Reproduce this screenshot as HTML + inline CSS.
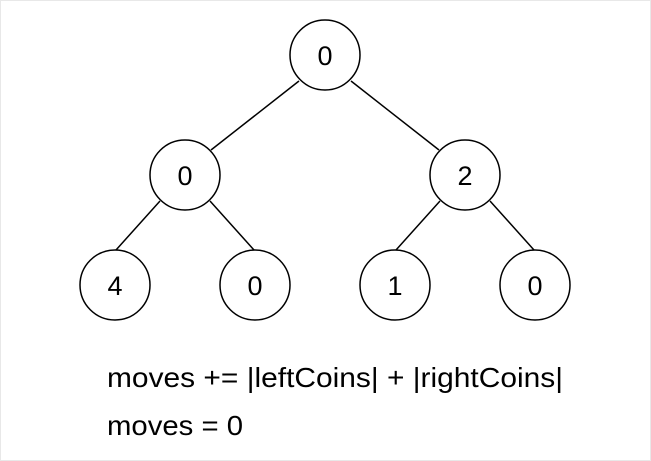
<!DOCTYPE html>
<html><head><style>
html,body{margin:0;padding:0;background:#fff;}
svg{display:block;}
</style></head><body>
<svg width="651" height="461" viewBox="0 0 651 461" xmlns="http://www.w3.org/2000/svg">
<rect x="0.5" y="0.5" width="650" height="460" fill="#fff" stroke="#e8e8e8"/>
<g stroke="#000" stroke-width="1.5" fill="none">
<line x1="299" y1="81" x2="211" y2="150"/>
<line x1="351" y1="81" x2="439" y2="150"/>
<line x1="160" y1="201" x2="116" y2="250"/>
<line x1="210" y1="201" x2="254" y2="250"/>
<line x1="440" y1="201" x2="396" y2="250"/>
<line x1="490" y1="201" x2="534" y2="250"/>
</g>
<g stroke="#000" stroke-width="1.5" fill="#fff">
<circle cx="325" cy="55" r="35"/>
<circle cx="185" cy="175" r="35"/>
<circle cx="465" cy="175" r="35"/>
<circle cx="115" cy="285" r="35"/>
<circle cx="255" cy="285" r="35"/>
<circle cx="395" cy="285" r="35"/>
<circle cx="535" cy="285" r="35"/>
</g>
<g font-family="Liberation Sans, sans-serif" font-size="27" text-anchor="middle" fill="#000">
<text x="325" y="65">0</text>
<text x="185" y="185">0</text>
<text x="465" y="185">2</text>
<text x="115" y="295">4</text>
<text x="255" y="295">0</text>
<text x="395" y="295">1</text>
<text x="535" y="295">0</text>
</g>
<g font-family="Liberation Sans, sans-serif" font-size="28" fill="#000">
<text x="107" y="387" textLength="456" lengthAdjust="spacingAndGlyphs">moves += |leftCoins| + |rightCoins|</text>
<text x="107" y="435" textLength="136" lengthAdjust="spacingAndGlyphs">moves = 0</text>
</g>
</svg>
</body></html>
